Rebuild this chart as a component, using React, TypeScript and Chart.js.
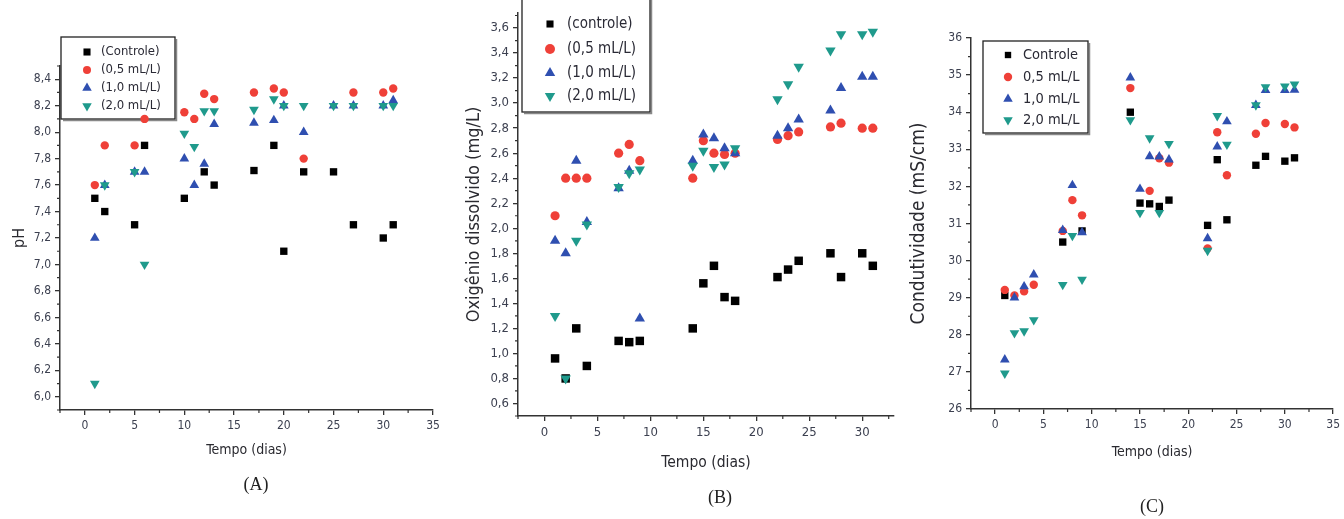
import React, { useEffect, useRef } from 'react';
import { Chart, registerables } from 'chart.js';

Chart.register(...registerables);

// ---------- Panel A : pH ----------
const phControleDias = [1, 2, 5, 6, 10, 12, 13, 17, 19, 20, 22, 25, 27, 30, 31];
const phControle = [7.5, 7.4, 7.3, 7.9, 7.5, 7.7, 7.6, 7.71, 7.9, 7.1, 7.7, 7.7, 7.3, 7.2, 7.3];
const ph05Dias = [1, 2, 5, 6, 10, 11, 12, 13, 17, 19, 20, 22, 27, 30, 31];
const ph05 = [7.6, 7.9, 7.9, 8.1, 8.15, 8.1, 8.29, 8.25, 8.3, 8.33, 8.3, 7.8, 8.3, 8.3, 8.33];
const ph10Dias = [1, 2, 5, 6, 10, 11, 12, 13, 17, 19, 20, 22, 25, 27, 30, 31];
const ph10 = [7.2, 7.6, 7.7, 7.7, 7.8, 7.6, 7.76, 8.06, 8.07, 8.09, 8.2, 8.0, 8.2, 8.2, 8.2, 8.24];
const ph20Dias = [1, 2, 5, 6, 10, 11, 12, 13, 17, 19, 20, 22, 25, 27, 30, 31];
const ph20 = [6.1, 7.6, 7.7, 7.0, 7.99, 7.89, 8.16, 8.16, 8.17, 8.25, 8.2, 8.2, 8.2, 8.2, 8.2, 8.2];

// ---------- Panel B : Oxigênio dissolvido ----------
const odDias = [1, 2, 3, 4, 7, 8, 9, 14, 15, 16, 17, 18, 22, 23, 24, 27, 28, 30, 31];
const odControle = [0.96, 0.8, 1.2, 0.9, 1.1, 1.09, 1.1, 1.2, 1.56, 1.7, 1.45, 1.42, 1.61, 1.67, 1.74, 1.8, 1.61, 1.8, 1.7];
const od05 = [2.1, 2.4, 2.4, 2.4, 2.6, 2.67, 2.54, 2.4, 2.7, 2.6, 2.59, 2.6, 2.71, 2.74, 2.77, 2.81, 2.84, 2.8, 2.8];
const od10 = [1.9, 1.8, 2.54, 2.05, 2.32, 2.46, 1.28, 2.54, 2.75, 2.72, 2.64, 2.6, 2.74, 2.8, 2.87, 2.94, 3.12, 3.21, 3.21];
const od20 = [1.3, 0.8, 1.9, 2.03, 2.33, 2.44, 2.47, 2.5, 2.62, 2.49, 2.51, 2.64, 3.03, 3.15, 3.29, 3.42, 3.55, 3.55, 3.57];

// ---------- Panel C : Condutividade ----------
const condControleDias = [1, 7, 9, 14, 15, 16, 17, 18, 22, 23, 24, 27, 28, 30, 31];
const condControle = [29.06, 30.5, 30.8, 34.0, 31.55, 31.53, 31.46, 31.63, 30.95, 32.72, 31.1, 32.57, 32.81, 32.68, 32.77];
const cond05Dias = [1, 2, 3, 4, 7, 8, 9, 14, 16, 17, 18, 22, 23, 24, 27, 28, 30, 31];
const cond05 = [29.21, 29.06, 29.17, 29.35, 30.8, 31.63, 31.22, 34.65, 31.88, 32.76, 32.64, 30.33, 33.46, 32.3, 33.42, 33.71, 33.68, 33.59];
const condDias = [1, 2, 3, 4, 7, 8, 9, 14, 15, 16, 17, 18, 22, 23, 24, 27, 28, 30, 31];
const cond10 = [27.33, 29.0, 29.3, 29.62, 30.82, 32.03, 30.76, 34.93, 31.93, 32.81, 32.8, 32.72, 30.6, 33.07, 33.75, 34.19, 34.59, 34.59, 34.6];
const cond20 = [26.96, 28.05, 28.1, 28.4, 29.35, 30.67, 29.49, 33.79, 31.29, 33.3, 31.29, 33.15, 30.27, 33.9, 33.13, 34.19, 34.68, 34.7, 34.75];

// ---------- tick labels ----------
const xTicksAC = [0, 5, 10, 15, 20, 25, 30, 35];
const xTicksB = [0, 5, 10, 15, 20, 25, 30];
const xMinorAC = [-2.5, 2.5, 7.5, 12.5, 17.5, 22.5, 27.5, 32.5];
const xMinorB = [-2.5, 2.5, 7.5, 12.5, 17.5, 22.5, 27.5, 32.5];
const phTicks = [6.0, 6.2, 6.4, 6.6, 6.8, 7.0, 7.2, 7.4, 7.6, 7.8, 8.0, 8.2, 8.4];
const phMinor = [5.9, 6.1, 6.3, 6.5, 6.7, 6.9, 7.1, 7.3, 7.5, 7.7, 7.9, 8.1, 8.3, 8.5];
const odTicks = [0.6, 0.8, 1.0, 1.2, 1.4, 1.6, 1.8, 2.0, 2.2, 2.4, 2.6, 2.8, 3.0, 3.2, 3.4, 3.6];
const odMinor = [0.5, 0.7, 0.9, 1.1, 1.3, 1.5, 1.7, 1.9, 2.1, 2.3, 2.5, 2.7, 2.9, 3.1, 3.3, 3.5, 3.7];
const condTicks = [26, 27, 28, 29, 30, 31, 32, 33, 34, 35, 36];
const condMinor = [26.5, 27.5, 28.5, 29.5, 30.5, 31.5, 32.5, 33.5, 34.5, 35.5];

const BLACK = '#000000';
const RED = '#ef4038';
const BLUE = '#2f4fb0';
const TEAL = '#1f9a8c';
const FONT = "'Liberation Sans Narrow', 'Arial Narrow', 'DejaVu Sans Condensed', 'Liberation Sans', Arial, sans-serif";
const AXIS = '#333333';

type Mk = 'rect' | 'circle' | 'triangle' | 'triangleDown';

function drawMarker(ctx: CanvasRenderingContext2D, kind: Mk, x: number, y: number, r: number, color: string) {
  ctx.fillStyle = color;
  ctx.beginPath();
  if (kind === 'rect') {
    const s = r * Math.SQRT1_2;
    ctx.rect(x - s, y - s, 2 * s, 2 * s);
  } else if (kind === 'circle') {
    ctx.arc(x, y, r, 0, Math.PI * 2);
  } else {
    const d = kind === 'triangle' ? 1 : -1;
    ctx.moveTo(x, y - d * r);
    ctx.lineTo(x + r * 0.866, y + (d * r) / 2);
    ctx.lineTo(x - r * 0.866, y + (d * r) / 2);
    ctx.closePath();
  }
  ctx.fill();
}

const extrasPlugin = {
  id: 'extras',
  beforeDatasetsDraw(chart: any, _args: any, opts: any) {
    const ctx: CanvasRenderingContext2D = chart.ctx;
    const L = opts.legend;
    if (!L) return;
    ctx.save();
    ctx.fillStyle = '#ffffff';
    ctx.fillRect(L.x, L.y, L.w, L.h);
    ctx.strokeStyle = '#888888';
    ctx.lineWidth = 1.5;
    ctx.beginPath();
    ctx.moveTo(L.x + L.w + 1.5, L.y + 2);
    ctx.lineTo(L.x + L.w + 1.5, L.y + L.h + 1.5);
    ctx.lineTo(L.x + 2, L.y + L.h + 1.5);
    ctx.stroke();
    ctx.strokeStyle = '#222222';
    ctx.lineWidth = 1.3;
    ctx.strokeRect(L.x, L.y, L.w, L.h);
    ctx.font = `${L.size}px ${FONT}`;
    ctx.textBaseline = 'middle';
    ctx.textAlign = 'left';
    chart.data.datasets.forEach((ds: any, i: number) => {
      const y = L.rows[i];
      drawMarker(ctx, ds.marker, L.markerX, y, L.markerR[i], ds.backgroundColor);
      ctx.fillStyle = '#2a2a35';
      ctx.fillText(ds.label, L.textX, y);
    });
    ctx.restore();
  },
  afterDraw(chart: any, _args: any, opts: any) {
    const ctx: CanvasRenderingContext2D = chart.ctx;
    const xs = chart.scales.x;
    const ys = chart.scales.y;
    ctx.save();
    ctx.strokeStyle = AXIS;
    ctx.lineWidth = 1.2;
    ctx.beginPath();
    for (const v of opts.xMinor || []) {
      const px = xs.getPixelForValue(v);
      ctx.moveTo(px, xs.top);
      ctx.lineTo(px, xs.top + 3);
    }
    for (const v of opts.yMinor || []) {
      const py = ys.getPixelForValue(v);
      ctx.moveTo(ys.right - 3, py);
      ctx.lineTo(ys.right, py);
    }
    ctx.stroke();
    ctx.restore();
  },
};

interface SeriesSpec {
  label: string;
  dias: number[];
  vals: number[];
  color: string;
  marker: Mk;
  r: number;
  order: number;
}

interface PanelSpec {
  width: number;
  series: SeriesSpec[];
  xMax: number;
  xTicks: number[];
  xMinor: number[];
  yMin: number;
  yMax: number;
  yTicks: number[];
  yMinor: number[];
  yDecimals: number;
  yTitle: string;
  yTitleSize: number;
  yTitleX: number;
  xTitleSize: number;
  xTitleY: number;
  yAxisW: number;
  plotBottom: number;
  padTop: number;
  padRight: number;
  tickSize: number;
  legend: any;
}

function makeConfig(p: PanelSpec): any {
  const datasets = p.series.map((s) => ({
    label: s.label,
    data: s.dias.map((d, i) => ({ x: d, y: s.vals[i] })),
    backgroundColor: s.color,
    borderColor: s.color,
    pointStyle: s.marker === 'triangleDown' ? 'triangle' : s.marker,
    pointRotation: s.marker === 'triangleDown' ? 180 : 0,
    pointRadius: s.r,
    pointBorderWidth: 0,
    pointHoverRadius: s.r,
    order: s.order,
    marker: s.marker,
    clip: false,
  }));
  const xLh = p.xTitleSize * 1.2;
  const yLh = p.yTitleSize * 1.2;
  const xAxisH = 519 - p.plotBottom;
  return {
    type: 'scatter',
    data: { datasets },
    options: {
      responsive: false,
      animation: false,
      devicePixelRatio: 1,
      events: [],
      layout: { padding: { left: 0, top: p.padTop, right: p.padRight, bottom: 0 } },
      plugins: {
        legend: { display: false },
        tooltip: { enabled: false },
        extras: { xMinor: p.xMinor, yMinor: p.yMinor, legend: p.legend },
      },
      scales: {
        x: {
          type: 'linear',
          min: -2.5,
          max: p.xMax,
          afterBuildTicks: (s: any) => {
            s.ticks = p.xTicks.map((v) => ({ value: v }));
          },
          afterFit: (s: any) => {
            s.height = xAxisH;
          },
          ticks: {
            autoSkip: false,
            maxRotation: 0,
            padding: 4,
            color: '#3c4050',
            font: { family: FONT, size: p.tickSize },
            callback: (v: any) => String(v),
          },
          grid: { display: true, drawOnChartArea: false, drawTicks: true, tickLength: 5, color: AXIS, lineWidth: 1.3 },
          border: { display: true, color: AXIS, width: 1.5 },
          title: {
            display: true,
            text: 'Tempo (dias)',
            color: '#2a2a30',
            font: { family: FONT, size: p.xTitleSize, lineHeight: 1.2 },
            padding: { top: 0, bottom: 519 - p.xTitleY - xLh / 2 },
          },
        },
        y: {
          type: 'linear',
          min: p.yMin,
          max: p.yMax,
          afterBuildTicks: (s: any) => {
            s.ticks = p.yTicks.map((v) => ({ value: v }));
          },
          afterFit: (s: any) => {
            s.width = p.yAxisW;
          },
          ticks: {
            autoSkip: false,
            padding: 4,
            color: '#3c4050',
            font: { family: FONT, size: p.tickSize },
            callback: (v: any) => Number(v).toFixed(p.yDecimals).replace('.', ','),
          },
          grid: { display: true, drawOnChartArea: false, drawTicks: true, tickLength: 5, color: AXIS, lineWidth: 1.3 },
          border: { display: true, color: AXIS, width: 1.5 },
          title: {
            display: true,
            text: p.yTitle,
            color: '#2a2a30',
            font: { family: FONT, size: p.yTitleSize, lineHeight: 1.2 },
            padding: { top: p.yTitleX - yLh / 2, bottom: 0 },
          },
        },
      },
    },
    plugins: [extrasPlugin],
  };
}

const panelA: PanelSpec = {
  width: 450,
  series: [
    { label: '(Controle)', dias: phControleDias, vals: phControle, color: BLACK, marker: 'rect', r: 5.2, order: 4 },
    { label: '(0,5 mL/L)', dias: ph05Dias, vals: ph05, color: RED, marker: 'circle', r: 4.2, order: 3 },
    { label: '(1,0 mL/L)', dias: ph10Dias, vals: ph10, color: BLUE, marker: 'triangle', r: 5.6, order: 2 },
    { label: '(2,0 mL/L)', dias: ph20Dias, vals: ph20, color: TEAL, marker: 'triangleDown', r: 5.6, order: 1 },
  ],
  xMax: 35,
  xTicks: xTicksAC,
  xMinor: xMinorAC,
  yMin: 5.9,
  yMax: 8.5,
  yTicks: phTicks,
  yMinor: phMinor,
  yDecimals: 1,
  yTitle: 'pH',
  yTitleSize: 16,
  yTitleX: 20,
  xTitleSize: 14,
  xTitleY: 450,
  yAxisW: 60,
  plotBottom: 410,
  padTop: 66,
  padRight: 17,
  tickSize: 12,
  legend: { x: 61, y: 37, w: 114, h: 82, rows: [52, 70, 88, 106], markerX: 87, textX: 101, size: 13, markerR: [5, 4, 5.5, 5.5] },
};

const panelB: PanelSpec = {
  width: 450,
  series: [
    { label: '(controle)', dias: odDias, vals: odControle, color: BLACK, marker: 'rect', r: 6, order: 4 },
    { label: '(0,5 mL/L)', dias: odDias, vals: od05, color: RED, marker: 'circle', r: 4.6, order: 3 },
    { label: '(1,0 mL/L)', dias: odDias, vals: od10, color: BLUE, marker: 'triangle', r: 6, order: 2 },
    { label: '(2,0 mL/L)', dias: odDias, vals: od20, color: TEAL, marker: 'triangleDown', r: 6, order: 1 },
  ],
  xMax: 33,
  xTicks: xTicksB,
  xMinor: xMinorB,
  yMin: 0.5,
  yMax: 3.72,
  yTicks: odTicks,
  yMinor: odMinor,
  yDecimals: 1,
  yTitle: 'Oxigênio dissolvido (mg/L)',
  yTitleSize: 18,
  yTitleX: 24,
  xTitleSize: 15.5,
  xTitleY: 463,
  yAxisW: 68,
  plotBottom: 416,
  padTop: 13,
  padRight: 3,
  tickSize: 13,
  legend: { x: 72, y: -5, w: 128, h: 117, rows: [24, 49, 73, 96], markerX: 100, textX: 117, size: 15, markerR: [5, 5, 6, 6] },
};

const panelC: PanelSpec = {
  width: 444,
  series: [
    { label: 'Controle', dias: condControleDias, vals: condControle, color: BLACK, marker: 'rect', r: 5.2, order: 4 },
    { label: '0,5 mL/L', dias: cond05Dias, vals: cond05, color: RED, marker: 'circle', r: 4.2, order: 3 },
    { label: '1,0 mL/L', dias: condDias, vals: cond10, color: BLUE, marker: 'triangle', r: 5.6, order: 2 },
    { label: '2,0 mL/L', dias: condDias, vals: cond20, color: TEAL, marker: 'triangleDown', r: 5.6, order: 1 },
  ],
  xMax: 35,
  xTicks: xTicksAC,
  xMinor: xMinorAC,
  yMin: 26,
  yMax: 36,
  yTicks: condTicks,
  yMinor: condMinor,
  yDecimals: 0,
  yTitle: 'Condutividade (mS/cm)',
  yTitleSize: 19,
  yTitleX: 19,
  xTitleSize: 14,
  xTitleY: 452,
  yAxisW: 71,
  plotBottom: 409,
  padTop: 38,
  padRight: 7,
  tickSize: 12,
  legend: { x: 83, y: 41, w: 105, h: 92, rows: [55, 77, 99, 120], markerX: 108, textX: 123, size: 14.5, markerR: [4.5, 4.2, 5.5, 5.5] },
};

function Panel({ spec, left }: { spec: PanelSpec; left: number }) {
  const ref = useRef<HTMLCanvasElement>(null);
  useEffect(() => {
    const chart = new Chart(ref.current as HTMLCanvasElement, makeConfig(spec));
    return () => chart.destroy();
  }, [spec]);
  return (
    <canvas
      ref={ref}
      width={spec.width}
      height={519}
      style={{ position: 'absolute', left, top: 0, width: spec.width, height: 519 }}
    />
  );
}

const labelStyle = (x: number, y: number): React.CSSProperties => ({
  position: 'absolute',
  left: x,
  top: y,
  transform: 'translate(-50%, -50%)',
  fontFamily: "'Liberation Serif', 'DejaVu Serif', serif",
  fontSize: 18,
  color: '#222',
  whiteSpace: 'nowrap',
});

export default function App() {
  return (
    <div style={{ position: 'fixed', left: 0, top: 0, width: 1344, height: 519, background: '#fff', overflow: 'hidden' }}>
      <Panel spec={panelA} left={0} />
      <Panel spec={panelB} left={450} />
      <Panel spec={panelC} left={900} />
      <div style={labelStyle(256, 484)}>(A)</div>
      <div style={labelStyle(720, 497)}>(B)</div>
      <div style={labelStyle(1152, 506)}>(C)</div>
    </div>
  );
}
